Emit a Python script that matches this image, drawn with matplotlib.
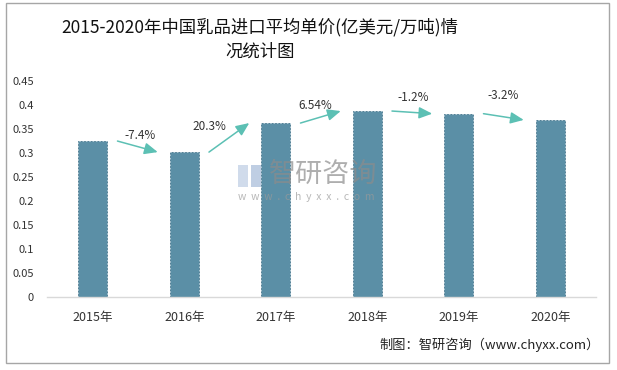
import matplotlib
matplotlib.use('Agg')
import matplotlib.pyplot as plt
from matplotlib.patches import Rectangle

plt.rcParams['font.family'] = ['Noto Sans CJK SC', 'DejaVu Sans']

# ── Data ──────────────────────────────────────────────────────────────
years = ['2015年', '2016年', '2017年', '2018年', '2019年', '2020年']
unit_price = [0.325, 0.302, 0.3625, 0.3875, 0.382, 0.369]
growth_labels = ['-7.4%', '20.3%', '6.54%', '-1.2%', '-3.2%']
y_ticks = [0, 0.05, 0.1, 0.15, 0.2, 0.25, 0.3, 0.35, 0.4, 0.45]
y_tick_labels = ['0', '0.05', '0.1', '0.15', '0.2', '0.25', '0.3', '0.35', '0.4', '0.45']

BAR_COLOR = '#5B8FA6'
ARROW_COLOR = '#5CC0B4'
TEXT_COLOR = '#333333'

fig = plt.figure(figsize=(6.17, 3.70), dpi=100)
ax = fig.add_axes([0.0762, 0.197, 0.8898, 0.584])

x = list(range(len(years)))
ax.bar(x, unit_price, 0.32, color=BAR_COLOR, edgecolor='#46758C',
       linewidth=0.6, linestyle=(0, (2, 2)), zorder=2)

# growth arrows between neighbouring bars
label_dx = [0.52, 0.27, 0.43, 0.5, 0.49]
label_dy = [0.012, -0.008, 0.012, 0.028, 0.037]
for i, lab in enumerate(growth_labels):
    y0, y1 = unit_price[i], unit_price[i + 1]
    ax.annotate('', xy=(i + 0.71, y1), xytext=(i + 0.27, y0),
                arrowprops=dict(arrowstyle='-|>,head_length=0.8,head_width=0.35',
                                color=ARROW_COLOR, lw=1.1,
                                shrinkA=0, shrinkB=0), zorder=3)
    ax.text(i + label_dx[i], max(y0, y1) + label_dy[i], lab,
            ha='center', va='center', fontsize=8.5, color=TEXT_COLOR)

ax.set_xlim(-0.5, 5.5)
ax.set_ylim(0, 0.45)
ax.set_xticks(x)
ax.set_xticklabels(years, fontsize=9, color=TEXT_COLOR)
ax.set_yticks(y_ticks)
ax.set_yticklabels(y_tick_labels, fontsize=8, color=TEXT_COLOR)
ax.tick_params(axis='both', length=0)
ax.tick_params(axis='y', pad=9.5)
ax.tick_params(axis='x', pad=10)
for side in ['top', 'right', 'left']:
    ax.spines[side].set_visible(False)
ax.spines['bottom'].set_color('#D9D9D9')
ax.spines['bottom'].set_linewidth(1.0)

# ── Title ─────────────────────────────────────────────────────────────
fig.text(0.4215, 0.893,
         '2015-2020年中国乳品进口平均单价(亿美元/万吨)情\n况统计图',
         ha='center', va='center', fontsize=12.5, color='#111111',
         linespacing=1.45)

# ── Watermark ─────────────────────────────────────────────────────────
fig.text(269 / 617, 1 - 174 / 370, '智研咨询', ha='left', va='center',
         fontsize=19.5, color='#8C8C8C', alpha=0.7, zorder=10)
fig.text(238 / 617, 1 - 197 / 370, 'w  w  w  .  c  h  y  x  x  .  c  o  m',
         ha='left', va='center', fontsize=7.5, color='#9A9A9A', alpha=0.7,
         zorder=10)
fig.patches.append(Rectangle((238 / 617, 1 - 187 / 370), 10 / 617, 22 / 370,
                             transform=fig.transFigure, facecolor='#C5D3E6',
                             alpha=0.8, zorder=10))
fig.patches.append(Rectangle((251 / 617, 1 - 187 / 370), 10 / 617, 22 / 370,
                             transform=fig.transFigure, facecolor='#AFC2DC',
                             alpha=0.8, zorder=10))

# ── Source note ───────────────────────────────────────────────────────
fig.text(600 / 617, 1 - 345 / 370, '制图：智研咨询（www.chyxx.com）',
         ha='right', va='center', fontsize=9.5, color='#222222')

# ── Outer frame ───────────────────────────────────────────────────────
fig.patches.append(Rectangle((5.5 / 617, 7 / 370), 603.5 / 617, 360 / 370,
                             transform=fig.transFigure, fill=False,
                             edgecolor='#A6A6A6', linewidth=1.0))

fig.savefig('out.png', dpi=100)
